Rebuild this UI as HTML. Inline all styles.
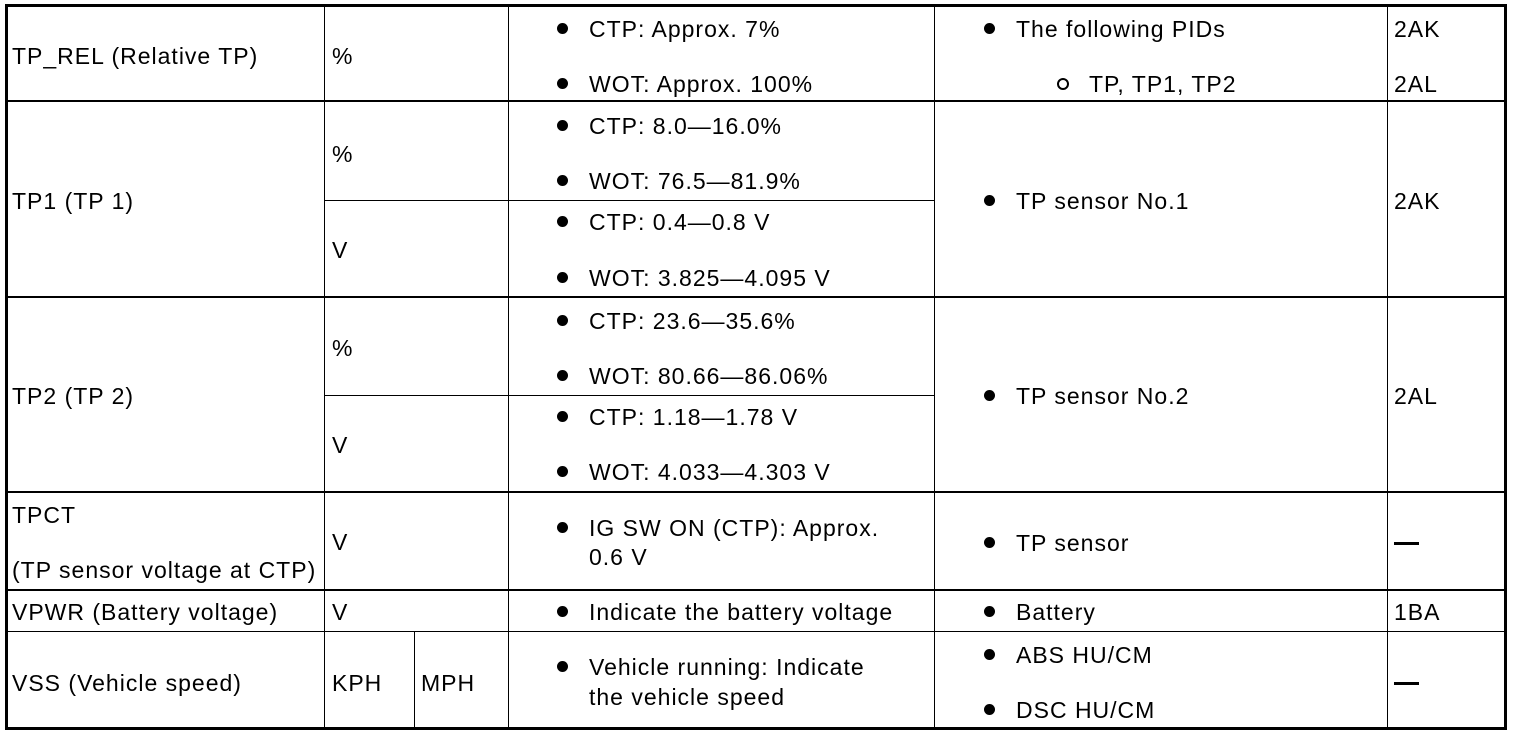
<!DOCTYPE html>
<html><head><meta charset="utf-8"><style>
html,body{margin:0;padding:0;background:#fff;}
body{width:1520px;height:738px;position:relative;overflow:hidden;font-family:"Liberation Sans",sans-serif;font-size:23px;letter-spacing:1px;color:#000;}
.h,.v{position:absolute;background:#000;}
.t{position:absolute;line-height:24px;white-space:nowrap;}
.d{position:absolute;width:11px;height:11px;border-radius:50%;background:#000;}
.o{position:absolute;width:8px;height:8px;border-radius:50%;border:2px solid #000;}
</style></head><body>
<div class="h" style="left:5px;top:4px;width:1502px;height:3px"></div>
<div class="h" style="left:5px;top:727px;width:1502px;height:3px"></div>
<div class="v" style="left:5px;top:4px;width:3px;height:726px"></div>
<div class="v" style="left:1504px;top:4px;width:3px;height:726px"></div>
<div class="h" style="left:5px;top:100px;width:1502px;height:2px"></div>
<div class="h" style="left:5px;top:296px;width:1502px;height:2px"></div>
<div class="h" style="left:5px;top:491px;width:1502px;height:2px"></div>
<div class="h" style="left:5px;top:589px;width:1502px;height:2px"></div>
<div class="h" style="left:5px;top:631px;width:1502px;height:1px"></div>
<div class="h" style="left:324px;top:200px;width:610px;height:1px"></div>
<div class="h" style="left:324px;top:395px;width:610px;height:1px"></div>
<div class="v" style="left:324px;top:4px;width:1px;height:726px"></div>
<div class="v" style="left:508px;top:4px;width:1px;height:726px"></div>
<div class="v" style="left:934px;top:4px;width:1px;height:726px"></div>
<div class="v" style="left:1387px;top:4px;width:1px;height:726px"></div>
<div class="v" style="left:414px;top:632px;width:1px;height:96px"></div>

<div class="t" style="left:12px;top:44px">TP_REL (Relative TP)</div>
<div class="t" style="left:12px;top:189px">TP1 (TP 1)</div>
<div class="t" style="left:12px;top:384px">TP2 (TP 2)</div>
<div class="t" style="left:12px;top:503px">TPCT</div>
<div class="t" style="left:12px;top:558px">(TP sensor voltage at CTP)</div>
<div class="t" style="left:12px;top:600px">VPWR (Battery voltage)</div>
<div class="t" style="left:12px;top:671px">VSS (Vehicle speed)</div>
<div class="t" style="left:332px;top:44px">%</div>
<div class="t" style="left:332px;top:142px">%</div>
<div class="t" style="left:332px;top:238px">V</div>
<div class="t" style="left:332px;top:336px">%</div>
<div class="t" style="left:332px;top:433px">V</div>
<div class="t" style="left:332px;top:530px">V</div>
<div class="t" style="left:332px;top:600px">V</div>
<div class="t" style="left:332px;top:671px">KPH</div>
<div class="t" style="left:421px;top:671px">MPH</div>
<div class="d" style="left:557px;top:23px"></div><div class="t" style="left:589px;top:17px">CTP: Approx. 7%</div>
<div class="d" style="left:557px;top:78px"></div><div class="t" style="left:589px;top:72px">WOT: Approx. 100%</div>
<div class="d" style="left:557px;top:120px"></div><div class="t" style="left:589px;top:114px">CTP: 8.0—16.0%</div>
<div class="d" style="left:557px;top:175px"></div><div class="t" style="left:589px;top:169px">WOT: 76.5—81.9%</div>
<div class="d" style="left:557px;top:216px"></div><div class="t" style="left:589px;top:210px">CTP: 0.4—0.8 V</div>
<div class="d" style="left:557px;top:272px"></div><div class="t" style="left:589px;top:266px">WOT: 3.825—4.095 V</div>
<div class="d" style="left:557px;top:315px"></div><div class="t" style="left:589px;top:309px">CTP: 23.6—35.6%</div>
<div class="d" style="left:557px;top:370px"></div><div class="t" style="left:589px;top:364px">WOT: 80.66—86.06%</div>
<div class="d" style="left:557px;top:411px"></div><div class="t" style="left:589px;top:405px">CTP: 1.18—1.78 V</div>
<div class="d" style="left:557px;top:466px"></div><div class="t" style="left:589px;top:460px">WOT: 4.033—4.303 V</div>
<div class="d" style="left:557px;top:522px"></div><div class="t" style="left:589px;top:516px">IG SW ON (CTP): Approx.</div>
<div class="t" style="left:589px;top:545px">0.6 V</div>
<div class="d" style="left:557px;top:606px"></div><div class="t" style="left:589px;top:600px">Indicate the battery voltage</div>
<div class="d" style="left:557px;top:661px"></div><div class="t" style="left:589px;top:655px">Vehicle running: Indicate</div>
<div class="t" style="left:589px;top:685px">the vehicle speed</div>
<div class="d" style="left:984px;top:23px"></div><div class="t" style="left:1016px;top:17px">The following PIDs</div>
<div class="o" style="left:1057px;top:78px"></div><div class="t" style="left:1089px;top:72px">TP, TP1, TP2</div>
<div class="d" style="left:984px;top:195px"></div><div class="t" style="left:1016px;top:189px">TP sensor No.1</div>
<div class="d" style="left:984px;top:390px"></div><div class="t" style="left:1016px;top:384px">TP sensor No.2</div>
<div class="d" style="left:984px;top:537px"></div><div class="t" style="left:1016px;top:531px">TP sensor</div>
<div class="d" style="left:984px;top:606px"></div><div class="t" style="left:1016px;top:600px">Battery</div>
<div class="d" style="left:984px;top:649px"></div><div class="t" style="left:1016px;top:643px">ABS HU/CM</div>
<div class="d" style="left:984px;top:704px"></div><div class="t" style="left:1016px;top:698px">DSC HU/CM</div>
<div class="t" style="left:1394px;top:17px">2AK</div>
<div class="t" style="left:1394px;top:72px">2AL</div>
<div class="t" style="left:1394px;top:189px">2AK</div>
<div class="t" style="left:1394px;top:384px">2AL</div>
<div class="h" style="left:1394px;top:542px;width:25px;height:3px"></div>
<div class="t" style="left:1394px;top:600px">1BA</div>
<div class="h" style="left:1394px;top:682px;width:25px;height:3px"></div>
</body></html>
